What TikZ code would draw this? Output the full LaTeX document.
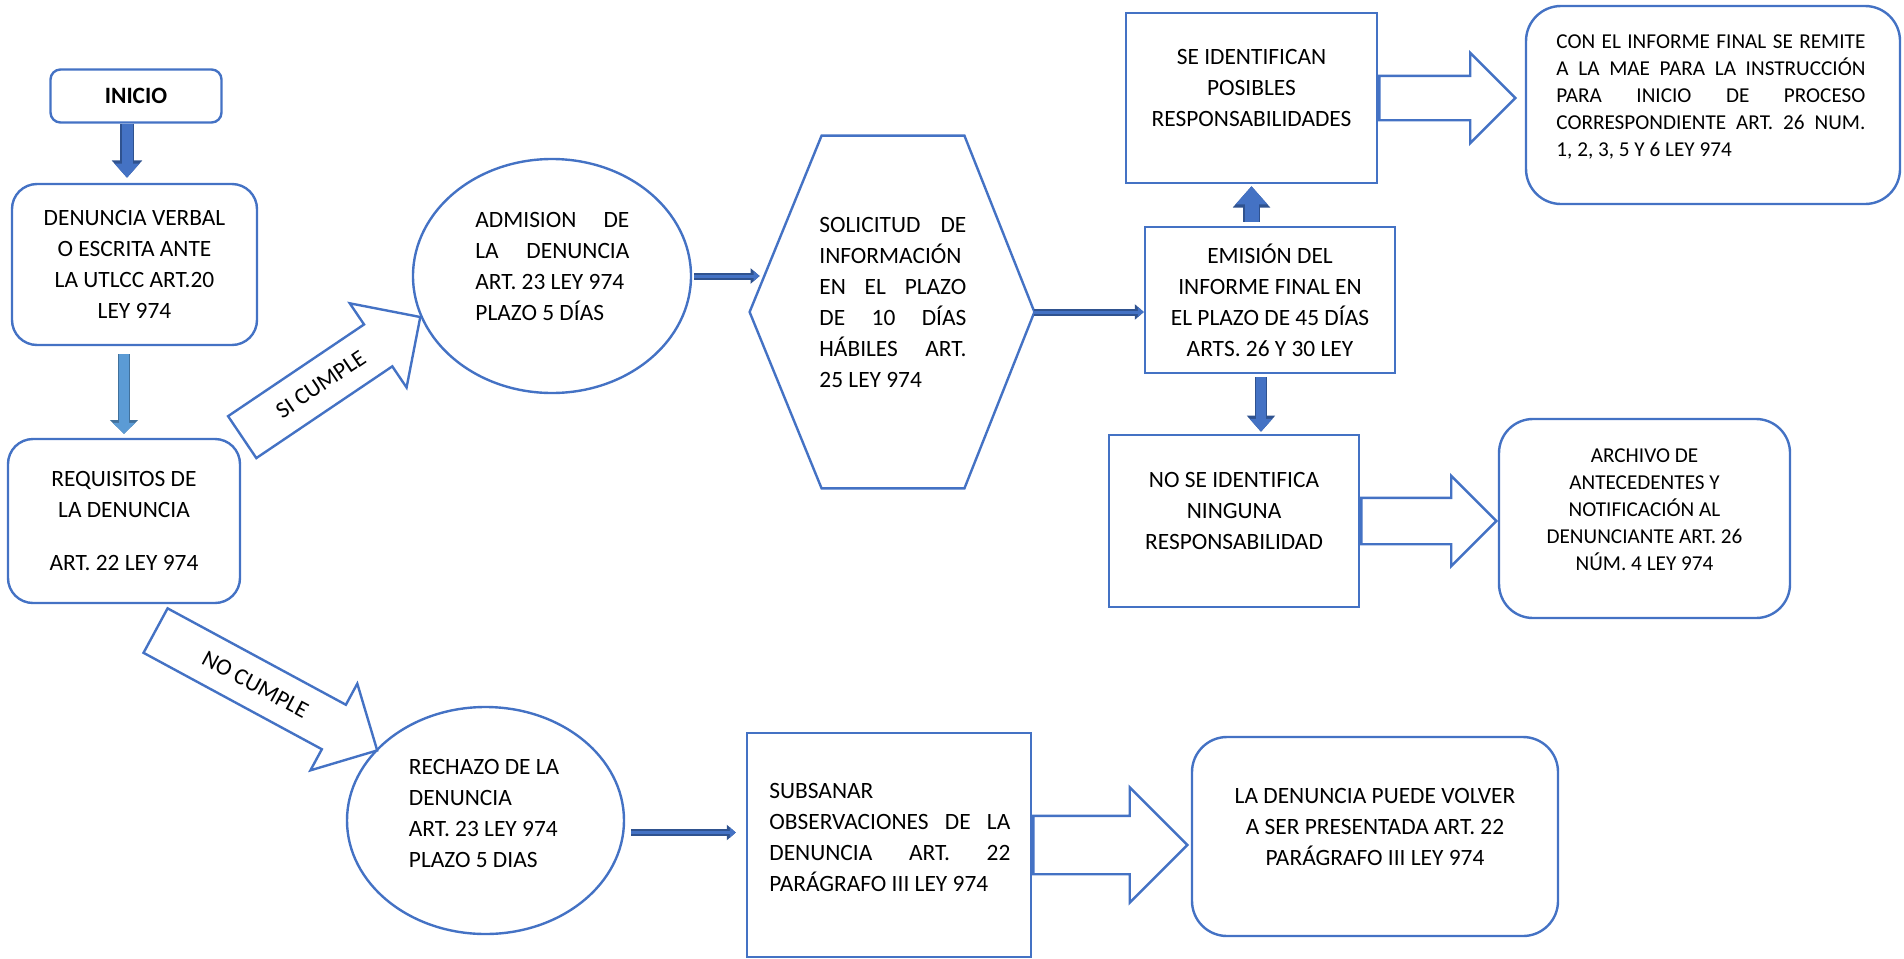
\documentclass[tikz,border=0pt]{standalone}
\usepackage{fontspec}
\setmainfont{Carlito}
\usetikzlibrary{shapes.geometric,shapes.arrows,arrows.meta}

\definecolor{boxblue}{HTML}{4472C4}
\definecolor{darkedge}{HTML}{2F528F}
\definecolor{paleblue}{HTML}{5B9BD5}
\definecolor{paleedge}{HTML}{41719C}

% justified line of a given width
\newcommand{\jl}[2]{\makebox[#1][s]{#2}}

\tikzset{
	box/.style={draw=boxblue, line width=1.2pt, rectangle, inner sep=0pt},
	roundbox/.style={box, rounded corners=#1},
	ovalbox/.style={draw=boxblue, line width=1.2pt, ellipse, inner sep=0pt},
	txt/.style={font=\fontsize{11.7}{15.5}\selectfont, inner sep=0pt, align=center},
	smalltxt/.style={font=\fontsize{10.6}{13.5}\selectfont, inner sep=0pt, align=center},
	blockarrow/.style={draw=boxblue, line width=1.2pt, single arrow, single arrow head extend=#1, inner xsep=0pt, anchor=tail, font=\fontsize{11.7}{15.5}\selectfont},
	fatarrow/.style={preaction={draw=darkedge, line width=#1+1.2pt, -{Triangle[width=0pt 2.2, length=0pt 1.3]}}, draw=boxblue, line width=#1, -{Triangle[width=0pt 2.2, length=0pt 1.3]}},
	palearrow/.style={preaction={draw=paleedge, line width=#1+1.2pt, -{Triangle[width=0pt 2.2, length=0pt 1.1]}}, draw=paleblue, line width=#1, -{Triangle[width=0pt 2.2, length=0pt 1.1]}},
	thinarrow/.style={preaction={draw=darkedge, line width=3.5pt, -{Triangle[width=7.5pt, length=4.5pt]}}, draw=boxblue, line width=1.5pt, -{Triangle[width=5pt, length=3pt]}}
}

\begin{document}
\begin{tikzpicture}[x=0.5pt, y=-0.5pt]
		\useasboundingbox (0,0) rectangle (1904,958);
		%%%%% START %%%%%
		
		\node[roundbox=5pt, minimum width=85.5pt, minimum height=26.5pt, txt] (inicio) at (136,96) {\textbf{INICIO}};
		\node[roundbox=12.5pt, minimum width=122.5pt, minimum height=80.5pt, txt] (denuncia) at (134.5,264.5) {DENUNCIA VERBAL\\O ESCRITA ANTE\\LA UTLCC ART.20\\LEY 974};
		\node[roundbox=12.5pt, minimum width=116pt, minimum height=82pt, txt] (requisitos) at (124,521) {REQUISITOS DE\\LA DENUNCIA\\[11pt]ART. 22 LEY 974};
		
		\draw[fatarrow=5.5pt, shorten >=2.5pt] ([xshift=-4.5pt]inicio.south) -- ([xshift=-4.5pt]inicio.south |- denuncia.north);
		\draw[palearrow=5pt, shorten <=4pt, shorten >=2pt] (requisitos.north |- denuncia.south) -- (requisitos.north);
		
		\node[blockarrow=12.75pt, inner ysep=8.2pt, rotate=34, minimum height=107.4pt, minimum width=49.5pt] (sicumple) at (requisitos.north east) {SI CUMPLE};
		\coordinate (nctail) at (154.5,630);
		\node[blockarrow=12pt, inner ysep=8.2pt, rotate=-28.4, minimum height=126pt, minimum width=48.3pt] (nocumple) at (nctail) {NO CUMPLE};
		
		%%%%% ADMISION / SOLICITUD %%%%%
		\node[ovalbox, minimum width=139pt, minimum height=117pt] (admision) at (552,276) {};
		\node[txt, align=left, anchor=west] (admisiontxt) at (475,266) {\jl{77pt}{ADMISION DE}\\\jl{77pt}{LA DENUNCIA}\\ART. 23 LEY 974\\PLAZO 5 DÍAS};
		
		\node[minimum width=142pt, minimum height=176pt, inner sep=0pt] (solicitud) at (892,312) {};
		\draw[draw=boxblue, line width=1.2pt] (solicitud.west) -- ([xshift=36pt]solicitud.north west) -- ([xshift=-35pt]solicitud.north east) -- (solicitud.east) -- ([xshift=-35pt]solicitud.south east) -- ([xshift=36pt]solicitud.south west) -- cycle;
		\node[txt, align=left, anchor=west] (solicitudtxt) at (819,302) {\jl{73.5pt}{SOLICITUD DE}\\INFORMACIÓN\\\jl{73.5pt}{EN EL PLAZO}\\\jl{73.5pt}{DE 10 DÍAS}\\\jl{73.5pt}{HÁBILES ART.}\\25 LEY 974};
		
		%%%%% INFORME FINAL %%%%%
		\node[box, minimum width=125pt, minimum height=73pt, txt] (emision) at (1270,300) {EMISIÓN DEL\\INFORME FINAL EN\\EL PLAZO DE 45 DÍAS\\ARTS. 26 Y 30 LEY};
		
		\node[box, minimum width=125.5pt, minimum height=85pt] (posibles) at (1251.5,98) {};
		\node[txt] (posiblestxt) at (1251.5,87.5) {SE IDENTIFICAN\\POSIBLES\\RESPONSABILIDADES};
		\node[roundbox=17.5pt, minimum width=187pt, minimum height=99pt] (remite) at (1713,105) {};
		\node[smalltxt, align=left, anchor=west] (remitetxt) at (1556,97) {\jl{154.5pt}{CON EL INFORME FINAL SE REMITE}\\\jl{154.5pt}{A LA MAE PARA LA INSTRUCCIÓN}\\\jl{154.5pt}{PARA INICIO DE PROCESO}\\\jl{154.5pt}{CORRESPONDIENTE ART. 26 NUM.}\\1, 2, 3, 5 Y 6 LEY 974};
		
		\node[box, minimum width=125pt, minimum height=86pt] (ninguna) at (1234,521) {};
		\node[txt] (ningunatxt) at (1234,511) {NO SE IDENTIFICA\\NINGUNA\\RESPONSABILIDAD};
		\node[roundbox=17pt, minimum width=145.5pt, minimum height=99.5pt] (archivo) at (1644.5,518.5) {};
		\node[smalltxt] (archivotxt) at (1644.5,509.5) {ARCHIVO DE\\ANTECEDENTES Y\\NOTIFICACIÓN AL\\DENUNCIANTE ART. 26\\NÚM. 4 LEY 974};
		
		\draw[thinarrow, shorten <=1pt, shorten >=-5pt] (admision.east) -- (admision.east -| solicitud.west);
		\draw[thinarrow] (solicitud.east) -- (solicitud.east -| emision.west);
		\draw[fatarrow=7pt, shorten <=2pt, shorten >=1pt] (posibles.south |- emision.north) -- (posibles.south);
		\draw[fatarrow=5pt, shorten <=1.5pt, shorten >=1pt] ([xshift=-4.5pt]emision.south) -- ([xshift=-4.5pt]emision.south |- ninguna.north);
		
		\node[blockarrow=11.5pt, inner ysep=10.5pt, minimum height=68pt, minimum width=44pt] (haciaremite) at (posibles.east) {};
		\node[blockarrow=11pt, inner ysep=11pt, minimum height=67.5pt, minimum width=44pt] (haciaarchivo) at (ninguna.east) {};
		
		%%%%% RECHAZO %%%%%
		\node[ovalbox, minimum width=138.5pt, minimum height=113.5pt] (rechazo) at (485.5,820.5) {};
		\node[txt, align=left, anchor=west] (rechazotxt) at (408.5,813.5) {RECHAZO DE LA\\DENUNCIA\\ART. 23 LEY 974\\PLAZO 5 DIAS};
		
		\node[box, minimum width=142pt, minimum height=112pt] (subsanar) at (889,845) {};
		\node[txt, align=left, anchor=west] (subsanartxt) at (769,837) {SUBSANAR\\\jl{120.5pt}{OBSERVACIONES DE LA}\\\jl{120.5pt}{DENUNCIA ART. 22}\\PARÁGRAFO III LEY 974};
		\node[roundbox=17.5pt, minimum width=183pt, minimum height=99.5pt] (volver) at (1375,836.5) {};
		\node[txt] (volvertxt) at (1375,827) {LA DENUNCIA PUEDE VOLVER\\A SER PRESENTADA ART. 22\\PARÁGRAFO III LEY 974};
		
		\draw[thinarrow, shorten <=3pt, shorten >=5pt] ([yshift=-6pt]rechazo.east) -- ([yshift=-6pt]rechazo.east -| subsanar.west);
		\node[blockarrow=14.25pt, inner ysep=14pt, minimum height=77pt, minimum width=56.5pt] (haciavolver) at (subsanar.east) {};
		
		%%%%% END %%%%%
\end{tikzpicture}
\end{document}
